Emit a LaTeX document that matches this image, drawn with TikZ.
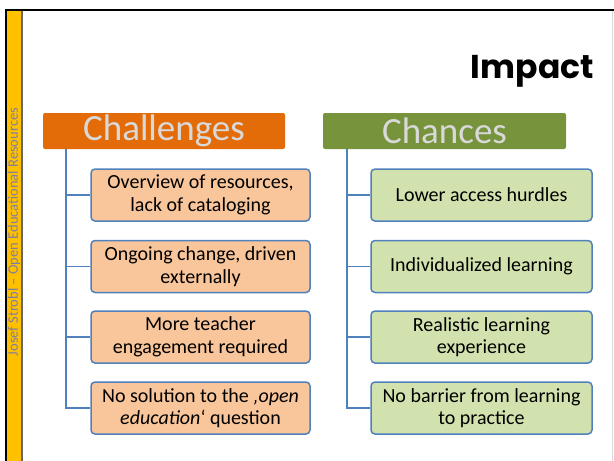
\documentclass[tikz,border=0pt]{standalone}
\usepackage{fontspec}
\setmainfont{Carlito}
\newfontfamily\titlefont{Poppins}
\definecolor{barYellow}{HTML}{FFC000}
\definecolor{hdrOrange}{HTML}{E36C09}
\definecolor{hdrGreen}{HTML}{77933C}
\definecolor{boxOrange}{HTML}{F9C59A}
\definecolor{boxGreen}{HTML}{D2E2AE}
\definecolor{lineBlue}{HTML}{4F81BD}
\definecolor{hdrText}{HTML}{D9D9D9}
\definecolor{sideText}{HTML}{7F7FA0}
\tikzset{
  hdr/.style={rounded corners=2pt, minimum width=242pt, minimum height=36pt, inner sep=0pt,
    text=hdrText, font=\fontsize{37}{40}\selectfont},
  item/.style={draw=lineBlue, line width=1.5pt, rounded corners=4pt, minimum height=52pt,
    inner sep=0pt, align=center, font=\fontsize{20}{22.5}\selectfont, text=black},
  chal/.style={item, fill=boxOrange, minimum width=219pt},
  chan/.style={item, fill=boxGreen, minimum width=221pt},
  conn/.style={draw=lineBlue, line width=1.8pt}
}
\begin{document}
\begin{tikzpicture}[x=1pt,y=-1pt]
\useasboundingbox (0,0) rectangle (614,461);
\fill[white] (0,0) rectangle (614,461);
% frame
\fill[barYellow] (7,10) rectangle (21,461);
\draw[black!60, line width=2pt] (22,11) -- (22,461);
\draw[black!15, line width=0.8pt] (612,11) -- (612,461);
\draw[black, line width=2.5pt] (6,461) -- (6,10) -- (614,10);
\node[rotate=90, text=sideText, font=\fontsize{14.5}{16}\selectfont, inner sep=0pt] (side) at (14,232) {Josef Strobl – Open Educational Resources};
% title
\node[anchor=base east, inner sep=0pt, font=\titlefont\bfseries\fontsize{33}{38}\selectfont] (title) at (594,78) {Impact};
% headers
\node[hdr, fill=hdrOrange] (ch) at (164,131) {Challenges};
\node[hdr, fill=hdrGreen, minimum width=243pt] (cn) at (444.5,131) {Chances};
% challenge boxes
\node[chal] (c1) at (200.5,195) {Overview of resources,\\lack of cataloging};
\node[chal] (c2) at (200.5,266.5) {Ongoing change, driven\\externally};
\node[chal] (c3) at (200.5,337) {More teacher\\engagement required};
\node[chal] (c4) at (200.5,408) {No solution to the \textit{‚open}\\\textit{education}‘ question};
% chance boxes
\node[chan] (g1) at (481.5,195) {Lower access hurdles};
\node[chan] (g2) at (481.5,266.5) {Individualized learning};
\node[chan] (g3) at (481.5,337) {Realistic learning\\experience};
\node[chan] (g4) at (481.5,408) {No barrier from learning\\to practice};
% connectors
\coordinate (chs) at (66,149);
\coordinate (cns) at (347,149);
\foreach \n in {c1,c2,c3,c4} \draw[conn] (chs) |- (\n.west);
\foreach \n in {g1,g2,g3,g4} \draw[conn] (cns) |- (\n.west);
\end{tikzpicture}
\end{document}
